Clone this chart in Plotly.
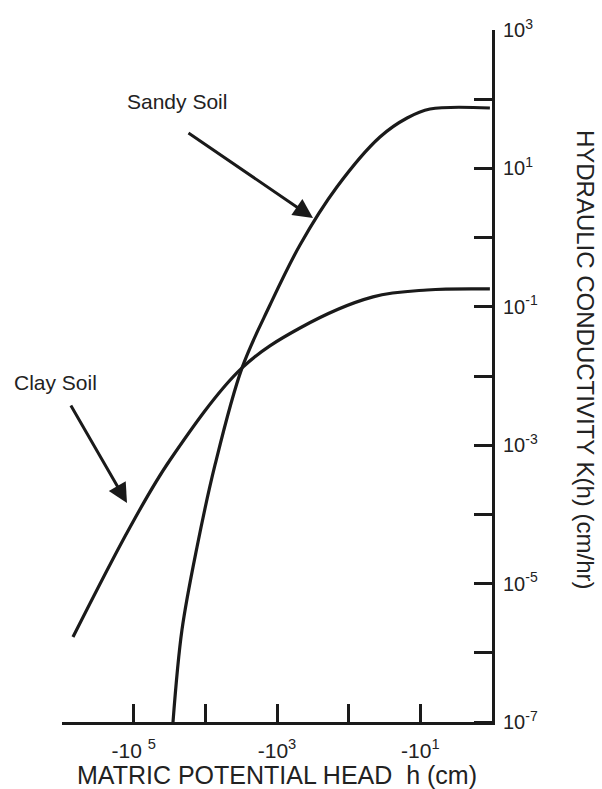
import plotly.graph_objects as go

# Matric potential head h (cm) and hydraulic conductivity K (cm/hr)
sandy_h = [-28250, -21200, -13060, -7330, -3076, -1253, -478, -146, -36.6, -15.3, -7.33, -1.07]
sandy_k = [1.0e-7, 2.13e-6, 3.38e-5, 5.18e-4, 1.31e-2, 0.106, 0.782, 5.38, 28.4, 53.5, 72.1, 74.6]

clay_h = [-703000, -112000, -31100, -3076, -478, -45.8, -8.07, -1.07]
clay_k = [1.69e-6, 6.58e-5, 6.11e-4, 1.31e-2, 4.94e-2, 0.139, 0.175, 0.181]

x_tick_vals = [1e6, 1e5, 1e4, 1e3, 1e2, 1e1]
x_tick_text = ["", "-10 <sup>5</sup>", "", "-10<sup>3</sup>", "", "-10<sup>1</sup>"]
y_label_vals = [1e-7, 1e-5, 1e-3, 1e-1, 1e1, 1e3]
y_label_text = ["10<sup>-7</sup>", "10<sup>-5</sup>", "10<sup>-3</sup>", "10<sup>-1</sup>", "10<sup>1</sup>", "10<sup>3</sup>"]
y_tick_vals = [1e-7, 1e-6, 1e-5, 1e-4, 1e-3, 1e-2, 1e-1, 1e0, 1e1, 1e2]

INK = "#1a1a1a"
TEXT = "#222"
FONT = "Liberation Sans, Arial, Helvetica, sans-serif"

fig = go.Figure()
for h_vals, k_vals in ((sandy_h, sandy_k), (clay_h, clay_k)):
    fig.add_trace(go.Scatter(x=[-v for v in h_vals], y=k_vals, mode="lines",
                             line=dict(color=INK, width=3.2, shape="spline", smoothing=1.0),
                             showlegend=False))

fig.update_xaxes(type="log", range=[6, 0], showgrid=False, zeroline=False, automargin=False,
                 showline=True, linecolor=INK, linewidth=3,
                 tickmode="array", tickvals=x_tick_vals, ticktext=x_tick_text,
                 ticks="inside", ticklen=18, tickwidth=3, tickcolor=INK,
                 ticklabelstandoff=8,
                 tickfont=dict(family=FONT, size=21, color=TEXT),
                 title=dict(text="MATRIC POTENTIAL HEAD  h (cm)", standoff=9,
                            font=dict(family=FONT, size=25, color=TEXT)))

fig.update_yaxes(type="log", range=[-7, 3], side="right", showgrid=False, zeroline=False,
                 automargin=False, showline=True, linecolor=INK, linewidth=3,
                 tickmode="array", tickvals=y_label_vals, ticktext=y_label_text,
                 ticks="", ticklabelstandoff=4,
                 tickfont=dict(family=FONT, size=20, color=TEXT),
                 minor=dict(tickmode="array", tickvals=y_tick_vals, ticks="inside",
                            ticklen=18, tickwidth=3, tickcolor=INK, showgrid=False))

fig.add_annotation(text="HYDRAULIC CONDUCTIVITY K(h) (cm/hr)", textangle=90,
                   xref="paper", yref="paper", x=1.219, y=0.523,
                   xanchor="center", yanchor="middle", showarrow=False,
                   font=dict(family=FONT, size=24, color=TEXT))

# Curve labels with pointer arrows
fig.add_annotation(text="Sandy Soil", x=4.395, y=1.96, showarrow=False,
                   font=dict(family=FONT, size=21, color=TEXT))
fig.add_annotation(text="", x=2.498, y=0.283, ax=-126, ay=-86, showarrow=True,
                   arrowhead=2, arrowsize=1.3, arrowwidth=3, arrowcolor=INK)
fig.add_annotation(text="Clay Soil", xref="paper", yref="paper", x=-0.014, y=0.49,
                   xanchor="center", yanchor="middle", showarrow=False,
                   font=dict(family=FONT, size=21, color=TEXT))
fig.add_annotation(text="", x=5.093, y=-3.835, ax=-57, ay=-99, showarrow=True,
                   arrowhead=2, arrowsize=1.3, arrowwidth=3, arrowcolor=INK)

fig.update_layout(width=602, height=789, margin=dict(l=62, r=110, t=30, b=67),
                  paper_bgcolor="white", plot_bgcolor="white")

fig.write_html("out.html")
